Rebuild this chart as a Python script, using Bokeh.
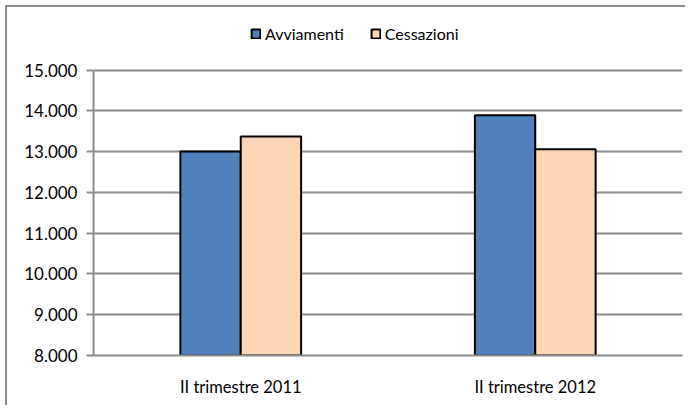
from bokeh.plotting import figure
from bokeh.models import FactorRange, Range1d, FixedTicker, Legend, LegendItem, ColumnDataSource
from bokeh.transform import dodge
from bokeh.embed import file_html
from bokeh.resources import INLINE

categories = ["II trimestre 2011", "II trimestre 2012"]
avviamenti = [13005, 13893]
cessazioni = [13375, 13060]
y_ticks = [8000, 9000, 10000, 11000, 12000, 13000, 14000, 15000]
y_tick_labels = ["8.000", "9.000", "10.000", "11.000", "12.000", "13.000", "14.000", "15.000"]

FONT = "Lato"
GRID = "#8c8c8c"

src = ColumnDataSource(dict(cat=categories, avv=avviamenti, ces=cessazioni))

# frame extends above 15.000 to host the legend; axis line bounded to 8.000-15.000
p = figure(width=685, height=405, output_backend="svg", toolbar_location=None,
           x_range=FactorRange(*categories, range_padding=0),
           y_range=Range1d(8000, 16318),
           min_border_left=93, min_border_right=3, min_border_top=16, min_border_bottom=50)
p.styles = {"background": "linear-gradient(#8c8c8c,#8c8c8c) 5px 5px / 2px 100% no-repeat, "
                          "linear-gradient(#8c8c8c,#8c8c8c) 5px 5px / 100% 2px no-repeat, white"}
p.outline_line_color = None
p.background_fill_color = "white"
p.border_fill_color = None

bw = 0.205
r1 = p.vbar(x=dodge("cat", -bw / 2, range=p.x_range), top="avv", bottom=8000, width=bw,
            source=src, fill_color="#4f81bd", line_color="black", line_width=2)
r2 = p.vbar(x=dodge("cat", bw / 2, range=p.x_range), top="ces", bottom=8000, width=bw,
            source=src, fill_color="#fcd5b5", line_color="black", line_width=2)

p.yaxis.ticker = FixedTicker(ticks=y_ticks)
p.yaxis.bounds = (8000, 15000)
p.yaxis.major_label_overrides = {t: l for t, l in zip(y_ticks, y_tick_labels)}
p.yaxis.axis_line_color = GRID
p.yaxis.axis_line_width = 2
p.yaxis.major_tick_line_color = GRID
p.yaxis.major_tick_line_width = 2
p.yaxis.major_tick_in = 0
p.yaxis.major_tick_out = 7
p.yaxis.minor_tick_line_color = None
p.yaxis.major_label_standoff = 9
p.yaxis.major_label_text_font = FONT
p.yaxis.major_label_text_font_size = "17px"
p.yaxis.major_label_text_color = "black"

p.xaxis.axis_line_color = GRID
p.xaxis.axis_line_width = 2
p.xaxis.major_tick_line_color = None
p.xaxis.minor_tick_line_color = None
p.xaxis.major_label_standoff = 15
p.xaxis.major_label_text_font = FONT
p.xaxis.major_label_text_font_size = "16.5px"
p.xaxis.major_label_text_color = "black"

p.xgrid.grid_line_color = None
p.ygrid.ticker = FixedTicker(ticks=y_ticks)
p.ygrid.grid_line_color = GRID
p.ygrid.grid_line_width = 2

legend = Legend(items=[LegendItem(label="Avviamenti", renderers=[r1]),
                       LegendItem(label="Cessazioni", renderers=[r2])],
                orientation="horizontal", location=(157, 312),
                glyph_width=11, glyph_height=11, label_standoff=4, spacing=26,
                padding=0, margin=0, border_line_color=None, background_fill_alpha=0,
                label_text_font=FONT, label_text_font_size="16px", label_text_color="black",
                label_height=18)
p.add_layout(legend, "center")

open("out.html", "w").write(file_html(p, INLINE))
